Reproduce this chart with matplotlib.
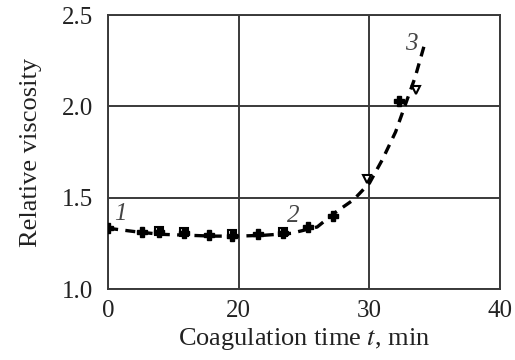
import numpy as np
import matplotlib
matplotlib.use("Agg")
import matplotlib.pyplot as plt

# dashed fitted curve (min, relative viscosity)
curve_t = [0, 4, 8, 12, 16, 20, 22, 24, 26, 27.3, 28.8, 30, 31, 32, 32.7, 33.5, 34.3]
curve_v = [1.333, 1.315, 1.30, 1.295, 1.29, 1.29, 1.295, 1.305, 1.34, 1.415,
           1.49, 1.58, 1.71, 1.86, 2.0, 2.16, 2.36]

# filled plus markers
plus_t = [0, 5.2, 7.8, 11.6, 15.4, 18.9, 21.5, 23.4, 25.3, 27.2, 32.3]
plus_v = [1.333, 1.31, 1.31, 1.305, 1.295, 1.29, 1.30, 1.305, 1.34, 1.40, 2.03]

# open square markers
sq_t = [7.8, 11.6, 18.9, 23.4]
sq_v = [1.32, 1.315, 1.30, 1.315]

# open triangle markers
tri_t = [29.8, 33.6]
tri_v = [1.60, 2.09]

xticks = [0, 20, 30, 40]
yticks = [1.0, 1.5, 2.0, 2.5]


def fwd(t):
    t = np.asarray(t, dtype=float)
    return np.where(t <= 20, t / 20.0, 1 + (t - 20) / 10.0)


def inv(u):
    u = np.asarray(u, dtype=float)
    return np.where(u <= 1, u * 20.0, 20 + (u - 1) * 10.0)


plt.rcParams['font.family'] = ['Liberation Serif', 'DejaVu Serif']
plt.rcParams['mathtext.fontset'] = 'stix'

fig = plt.figure(figsize=(5.15, 3.6), dpi=100)
ax = fig.add_axes([0.21, 0.197, 0.761, 0.761])
ax.set_xscale('function', functions=(fwd, inv))

ax.plot(curve_t, curve_v, '--', color='black', lw=2.4, dashes=(3, 2.2), zorder=3)
ax.plot(sq_t, sq_v, 's', mfc='white', mec='black', mew=1.5, ms=6, zorder=4)
ax.plot(tri_t, tri_v, 'v', mfc='white', mec='black', mew=1.5, ms=6, zorder=4)
ax.plot(plus_t, plus_v, 'P', color='black', ms=7, zorder=5)

ax.text(0.9, 1.38, '1', fontsize=18, style='italic', color='#444444')
ax.text(23.7, 1.37, '2', fontsize=18, style='italic', color='#444444')
ax.text(32.7, 2.31, '3', fontsize=18, style='italic', color='#444444')

ax.set_xlim(0, 40)
ax.set_ylim(1.0, 2.5)
ax.set_xticks(xticks)
ax.set_yticks(yticks)
ax.set_xticklabels([str(x) for x in xticks])
ax.set_yticklabels(['%.1f' % y for y in yticks])
ax.tick_params(length=0, labelsize=18, colors='#222222')
ax.tick_params(axis='y', pad=11)
ax.tick_params(axis='x', pad=8)
ax.grid(True, color='#3a3a3a', lw=1.4)
for s in ax.spines.values():
    s.set_color('#3a3a3a')
    s.set_linewidth(1.4)

ax.set_xlabel('Coagulation time $t$, min', fontsize=19, color='#222222', labelpad=3)
ax.set_ylabel('Relative viscosity', fontsize=19, color='#222222', labelpad=14)

fig.savefig('out.png', dpi=100, facecolor='white')
